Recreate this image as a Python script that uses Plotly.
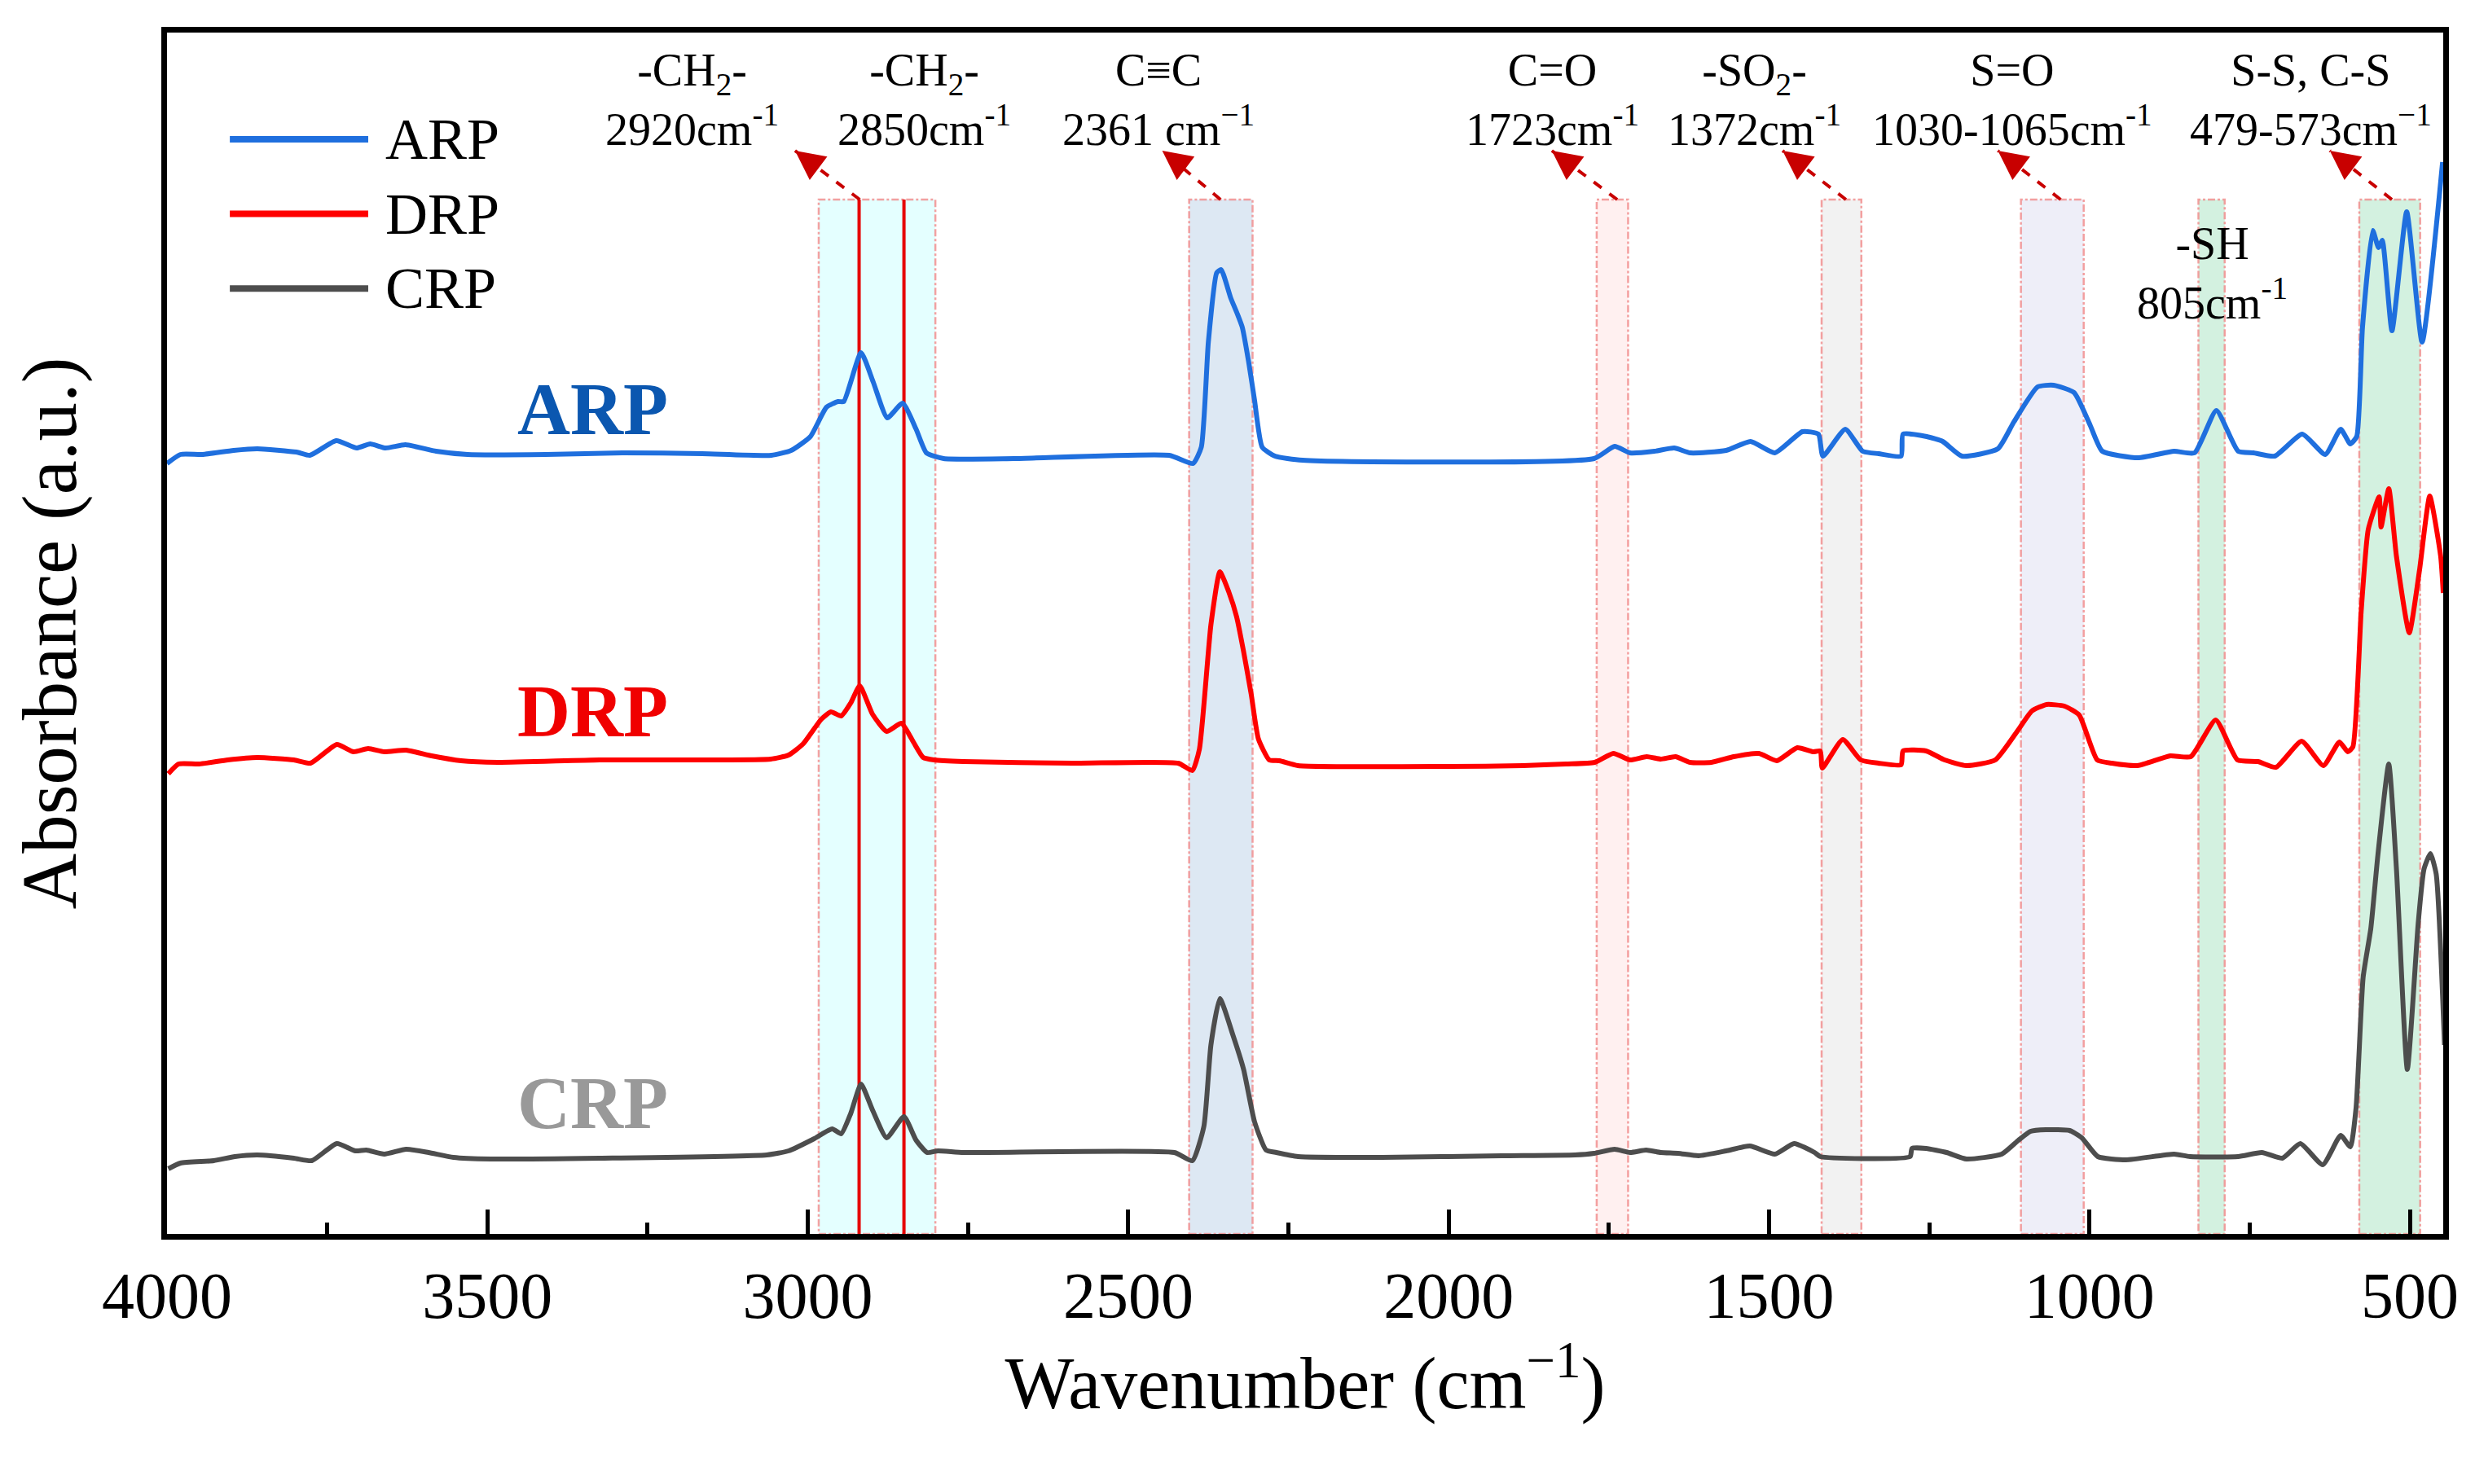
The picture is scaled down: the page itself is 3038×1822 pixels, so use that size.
import plotly.graph_objects as go

# FTIR spectra (wavenumber in cm-1, stacked absorbance in a.u.)
arp_wn = [4000, 3979, 3945, 3896, 3859, 3798, 3777, 3736, 3704, 3683, 3659, 3628, 3580, 3531,
          3409, 3287, 3165, 3057, 3026, 2996, 2971, 2953, 2944, 2917, 2898, 2876, 2852, 2831,
          2815, 2788, 2678, 2436, 2399, 2386, 2375, 2362, 2355, 2340, 2330, 2322, 2312, 2303,
          2291, 2271, 2228, 1773, 1741, 1717, 1679, 1648, 1623, 1567, 1529, 1491, 1448, 1423,
          1416, 1381, 1354, 1329, 1294, 1291, 1254, 1229, 1199, 1143, 1118, 1081, 1056, 1024,
          999, 980, 924, 868, 836, 802, 768, 744, 711, 668, 632, 608, 593, 583, 574, 558, 549,
          543, 528, 505, 481, 449]
arp_abs = [9.46, 9.57, 9.57, 9.62, 9.64, 9.60, 9.56, 9.74, 9.65, 9.70, 9.65, 9.69, 9.61, 9.57,
           9.57, 9.59, 9.58, 9.56, 9.62, 9.79, 10.15, 10.22, 10.22, 10.82, 10.46, 10.02, 10.20, 9.88,
           9.59, 9.52, 9.52, 9.56, 9.46, 9.66, 10.95, 11.80, 11.84, 11.49, 11.30, 11.13, 10.70, 10.24,
           9.66, 9.55, 9.50, 9.52, 9.67, 9.59, 9.61, 9.65, 9.59, 9.62, 9.73, 9.59, 9.85, 9.82,
           9.55, 9.88, 9.61, 9.58, 9.55, 9.82, 9.79, 9.73, 9.55, 9.64, 9.97, 10.40, 10.42, 10.33,
           9.93, 9.61, 9.53, 9.61, 9.59, 10.11, 9.61, 9.59, 9.55, 9.82, 9.57, 9.88, 9.70, 9.79, 11.13, 12.32, 12.11,
           12.20, 11.09, 12.55, 10.95, 13.16]

drp_wn = [3998, 3982, 3950, 3905, 3859, 3802, 3776, 3735, 3709, 3686, 3661, 3627, 3587, 3541,
          3484, 3325, 3154, 3058, 3030, 3007, 2979, 2964, 2948, 2933, 2919, 2899, 2877, 2854,
          2836, 2820, 2803, 2757, 2587, 2422, 2400, 2389, 2371, 2357, 2343, 2331, 2320, 2308,
          2297, 2280, 2264, 2235, 1998, 1884, 1817, 1772, 1743, 1717, 1691, 1669, 1646, 1623,
          1590, 1555, 1516, 1488, 1456, 1431, 1420, 1417, 1385, 1357, 1329, 1294, 1291, 1255,
          1226, 1192, 1147, 1112, 1090, 1067, 1039, 1016, 988, 965, 925, 874, 842, 803, 769,
          737, 709, 669, 635, 610, 597, 589, 576, 565, 548, 545, 533, 521, 501, 485, 469, 452, 448]
drp_abs = [5.65, 5.77, 5.77, 5.82, 5.85, 5.82, 5.78, 6.01, 5.92, 5.96, 5.92, 5.94, 5.87, 5.81,
           5.79, 5.82, 5.82, 5.83, 5.88, 6.02, 6.32, 6.41, 6.36, 6.52, 6.73, 6.38, 6.17, 6.27,
           6.05, 5.85, 5.82, 5.80, 5.78, 5.78, 5.69, 5.95, 7.48, 8.13, 7.88, 7.58, 7.15, 6.62,
           6.08, 5.82, 5.81, 5.75, 5.74, 5.75, 5.77, 5.79, 5.90, 5.82, 5.86, 5.83, 5.86, 5.79,
           5.79, 5.86, 5.90, 5.81, 5.97, 5.92, 5.93, 5.72, 6.07, 5.82, 5.78, 5.76, 5.93, 5.93,
           5.82, 5.75, 5.82, 6.18, 6.42, 6.50, 6.48, 6.37, 5.82, 5.78, 5.75, 5.87, 5.86, 6.31, 5.82,
           5.80, 5.73, 6.05, 5.75, 6.04, 5.92, 5.98, 7.65, 8.65, 9.05, 8.68, 9.15, 8.32, 7.38, 8.15, 9.06, 8.32, 7.87]

crp_wn = [3998, 3979, 3927, 3894, 3859, 3802, 3774, 3735, 3706, 3689, 3661, 3627, 3592, 3553,
          3495, 3325, 3064, 3030, 2990, 2962, 2948, 2933, 2917, 2899, 2877, 2850, 2831, 2814,
          2797, 2757, 2428, 2400, 2382, 2371, 2357, 2337, 2320, 2303, 2285, 2269, 2235, 2104,
          1917, 1803, 1773, 1741, 1717, 1692, 1669, 1642, 1610, 1567, 1530, 1491, 1461, 1429,
          1420, 1280, 1277, 1255, 1223, 1192, 1137, 1111, 1092, 1068, 1031, 1012, 987, 943,
          868, 843, 768, 731, 699, 671, 636, 608, 593, 584, 573, 561, 550, 533, 521, 504, 487,
          478, 468, 459, 446]
crp_abs = [0.80, 0.87, 0.90, 0.95, 0.97, 0.93, 0.90, 1.11, 1.02, 1.03, 0.98, 1.04, 1.00, 0.94,
           0.92, 0.93, 0.97, 1.02, 1.17, 1.29, 1.23, 1.48, 1.84, 1.52, 1.18, 1.44, 1.15, 1.00,
           1.02, 1.00, 1.00, 0.90, 1.32, 2.32, 2.89, 2.45, 2.02, 1.38, 1.03, 1.00, 0.95, 0.94,
           0.96, 0.97, 0.99, 1.04, 1.00, 1.03, 1.00, 0.99, 0.96, 1.02, 1.08, 0.98, 1.11, 1.00,
           0.95, 0.95, 1.05, 1.05, 1.00, 0.92, 0.98, 1.15, 1.26, 1.28, 1.27, 1.18, 0.95, 0.91,
           0.98, 0.95, 0.95, 1.00, 0.93, 1.11, 0.85, 1.21, 1.07, 1.55, 3.15, 3.75, 4.65, 5.77, 4.48, 2.02, 3.82,
           4.48, 4.67, 4.42, 2.32]

# assigned bands: (from, to) in cm-1
band_ranges = [(2983, 2801), (2405, 2306), (1769, 1720), (1418, 1356), (1107, 1009), (830, 789), (579, 484)]
band_colors = ["#E4FFFF", "#DDE8F3", "#FFF0F0", "#F2F2F2", "#EEEEF8", "#D3F1E0", "#D3F1E0"]
ch2_lines = [2920, 2850]

band_labels = ["-CH<sub>2</sub>-<br>2920cm<sup>-1</sup>",
               "-CH<sub>2</sub>-<br>2850cm<sup>-1</sup>",
               "C≡C<br>2361 cm<sup>−1</sup>",
               "C=O<br>1723cm<sup>-1</sup>",
               "-SO<sub>2</sub>-<br>1372cm<sup>-1</sup>",
               "S=O<br>1030-1065cm<sup>-1</sup>",
               "S-S, C-S<br>479-573cm<sup>−1</sup>"]
label_x = [3181, 2818, 2453, 1838, 1523, 1121, 655]

# arrows from band tops to labels
arrow_from = [2919, 2356, 1737, 1380, 1045, 528]
arrow_to = [3020, 2447, 1839, 1479, 1143, 625]

FONT = "Liberation Serif, Times New Roman, serif"
band_top = 12.70
arrow_top = 13.30

fig = go.Figure()

series = [("ARP", arp_wn, arp_abs, "#1F6FDE"),
          ("DRP", drp_wn, drp_abs, "#FF0000"),
          ("CRP", crp_wn, crp_abs, "#4D4D4D")]
for name, wn, ab, col in series:
    fig.add_trace(go.Scatter(x=wn, y=ab, mode="lines", name=name, showlegend=False,
                             line=dict(color=col, width=6, shape="spline", smoothing=0.5)))

# shaded bands
for (x0, x1), col in zip(band_ranges, band_colors):
    fig.add_shape(type="rect", x0=x0, x1=x1, y0=0, y1=band_top, layer="below",
                  fillcolor=col, line=dict(color="rgba(240,130,130,0.75)", width=2.5, dash="dashdot"))
for xl in ch2_lines:
    fig.add_shape(type="line", x0=xl, x1=xl, y0=0, y1=band_top, layer="below",
                  line=dict(color="#E60000", width=4))

# dashed arrows
for xs, xt in zip(arrow_from, arrow_to):
    fig.add_shape(type="line", x0=xs, x1=xt, y0=band_top, y1=arrow_top,
                  line=dict(color="#C80000", width=4, dash="dash"))
    fig.add_annotation(x=xt, y=arrow_top, text="", showarrow=True, ax=24, ay=18,
                       arrowhead=2, arrowsize=1.8, arrowwidth=4, arrowcolor="#C80000")

for txt, xl in zip(band_labels, label_x):
    fig.add_annotation(x=xl, y=13.93, text=txt, showarrow=False,
                       font=dict(family=FONT, size=56, color="black"))
fig.add_annotation(x=809, y=11.80, text="-SH<br>805cm<sup>-1</sup>", showarrow=False,
                   font=dict(family=FONT, size=56, color="black"))

# sample names inside the plot
for name, yv, col in [("ARP", 10.13, "#0B57B0"), ("DRP", 6.42, "#F00000"), ("CRP", 1.61, "#999999")]:
    fig.add_annotation(x=3336, y=yv, text="<b>" + name + "</b>", showarrow=False,
                       font=dict(family=FONT, size=90, color=col))

# hand-made legend with long line samples
for i, (name, wn, ab, col) in enumerate(series):
    yp = 0.9112 - i * 0.0621
    fig.add_shape(type="line", xref="paper", yref="paper", x0=0.0276, x1=0.0884, y0=yp, y1=yp,
                  line=dict(color=col, width=8))
    fig.add_annotation(xref="paper", yref="paper", x=0.0952, y=yp, text=name, showarrow=False,
                       xanchor="left", yanchor="middle",
                       font=dict(family=FONT, size=72, color="black"))

fig.update_xaxes(range=[4000, 448], showline=True, linewidth=7, linecolor="black", mirror=True,
                 ticks="inside", ticklen=30, tickwidth=5, tickcolor="black", dtick=500, tick0=0,
                 minor=dict(ticks="inside", ticklen=14, tickwidth=5, tickcolor="black", dtick=250),
                 showgrid=False, zeroline=False, tickfont=dict(family=FONT, size=80, color="black"),
                 title=dict(text="Wavenumber (cm<sup>−1</sup>)", standoff=20,
                            font=dict(family=FONT, size=90, color="black")))
fig.update_yaxes(range=[0, 14.75], showline=True, linewidth=7, linecolor="black", mirror=True,
                 ticks="", showticklabels=False, showgrid=False, zeroline=False,
                 title=dict(text="Absorbance (a.u.)", standoff=80,
                            font=dict(family=FONT, size=95, color="black")))

# the page adds an 8 px body margin, so the figure is 8 px smaller and shifted
fig.update_layout(width=3030, height=1814, autosize=False,
                  margin=dict(l=197, r=39, t=32, b=307),
                  font=dict(family=FONT),
                  plot_bgcolor="white", paper_bgcolor="white")

fig.write_html("out.html")
